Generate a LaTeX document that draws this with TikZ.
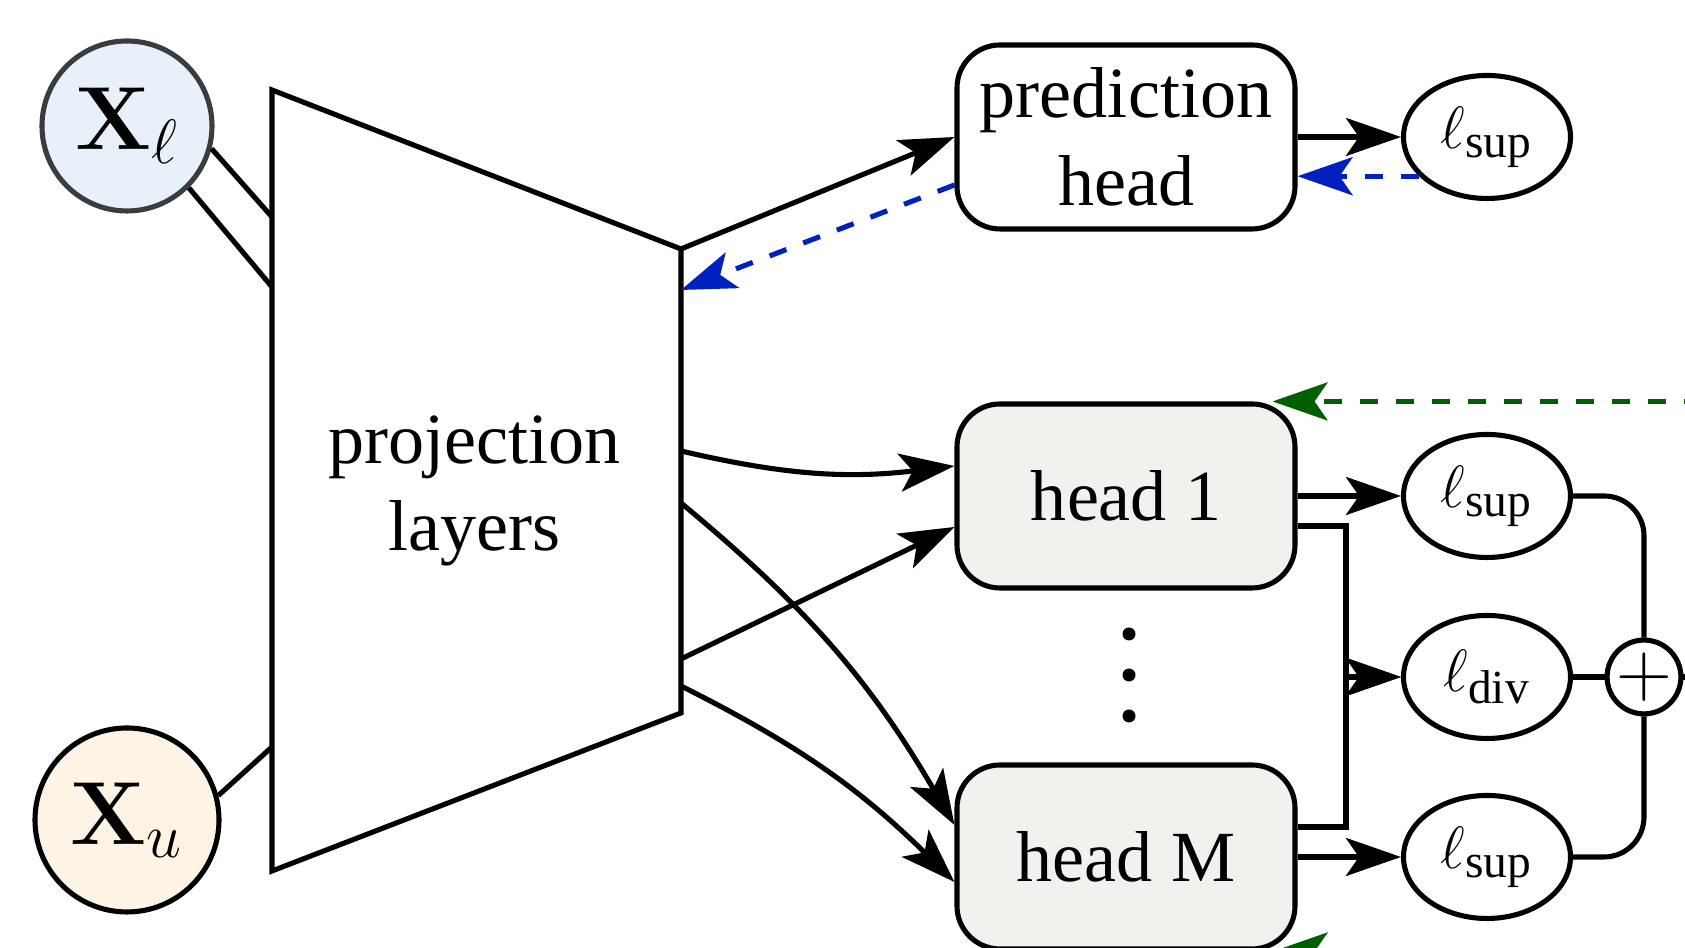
\documentclass[tikz,border=0pt]{standalone}
\usepackage{fix-cm}
\usepackage[no-math]{fontspec}
\setmainfont{Liberation Serif}
\usepackage{tikz}
\usepackage{xcolor}
\usetikzlibrary{arrows.meta, shapes.geometric, positioning}

\definecolor{inblue}{RGB}{232,240,250}
\definecolor{inorange}{RGB}{253,244,230}
\definecolor{headgray}{RGB}{241,242,238}
\definecolor{rimgray}{RGB}{58,60,65}
\definecolor{gradblue}{RGB}{0,32,192}
\definecolor{gradgreen}{RGB}{0,95,0}

\newcommand{\lossterm}[1]{$\ell_{\mbox{\fontsize{13.5}{14}\selectfont #1}}$}

\begin{document}
\begin{tikzpicture}[line width=1.45pt, node distance=3.61cm, on grid,
  >={Stealth[length=0.55cm, width=0.38cm, inset=0.13cm]},
  font=\fontsize{20.5}{25}\selectfont,
  input/.style={circle, draw, inner sep=0pt, font=\fontsize{25.5}{28}\selectfont},
  head/.style={rectangle, rounded corners=0.43cm, draw, fill=headgray, minimum width=3.38cm, minimum height=1.84cm, align=center},
  loss/.style={ellipse, draw, minimum width=1.67cm, minimum height=1.23cm, inner sep=0pt, font=\fontsize{17}{20}\selectfont},
  gradflow/.style={->, dash pattern=on 0.18cm off 0.18cm}]

            \useasboundingbox (0,0) rectangle (16.85,9.48);

            \node[input, fill=inblue, draw=rimgray, minimum size=1.70cm] (Xl) at (1.27,8.22) {$\mathbf{X}_\ell$};
            \node[input, fill=inorange, minimum size=1.84cm] (Xu) at (1.27,1.28) {$\mathbf{X}_u$};

            % projection layers
            \coordinate (pTL) at (2.72,8.58);
            \coordinate (pTR) at (6.81,6.99);
            \coordinate (pBR) at (6.81,2.35);
            \coordinate (pBL) at (2.72,0.77);
            \draw (pTL) -- (pTR) -- (pBR) -- (pBL) -- cycle;
            \node[align=center] (proj) at (4.745,4.57) {projection\\layers};

            \coordinate (inA) at (2.72,7.31);
            \coordinate (inB) at (2.72,6.61);
            \coordinate (inC) at (2.72,2.01);
            \coordinate (outG) at (6.81,6.58);
            \coordinate (out1) at (6.81,4.97);
            \coordinate (out2) at (6.81,4.45);
            \coordinate (out3) at (6.81,2.89);
            \coordinate (out4) at (6.81,2.62);

            \draw (Xl.-15) -- (inA);
            \draw (Xl.-45) -- (inB);
            \draw (Xu.15) -- (inC);

            % heads
            \node[head] (H1) at (11.26,4.52) {head 1};
            \node[head, fill=white, above=3.59cm of H1] (P) {prediction\\head};
            \node[head, below=of H1] (HM) {head M};
            \coordinate (dots) at (11.29,2.73);
            \foreach \dy in {-0.41,0,0.41}
                \fill ([yshift=\dy cm]dots) circle (0.065cm);

            % losses
            \node[loss, right=of P] (L0) {\lossterm{sup}};
            \node[loss, right=of H1] (L1) {\lossterm{sup}};
            \node[loss, below=1.81cm of L1] (Ld) {\lossterm{div}};
            \node[loss, right=of HM] (L2) {\lossterm{sup}};
            \node[circle, draw, minimum size=0.66cm, inner sep=0pt, right=1.57cm of Ld, font=\fontsize{22}{22}\selectfont] (S) {$+$};
            \coordinate (Sout) at ([xshift=1cm]S.east);

            \draw[->] (pTR) -- (P.west);
            \draw[->] (P) -- (L0);
            \draw[->] (H1) -- (L1);
            \draw[->] (HM) -- (L2);

            \path[->]
            (out1) edge[bend right=10] ([yshift=0.30cm]H1.west)
            (out2) edge[bend left=10] ([yshift=0.32cm]HM.west)
            (out3) edge ([yshift=-0.31cm]H1.west)
            (out4) edge[bend left=9] ([yshift=-0.25cm]HM.west);

            \draw[->] ([yshift=-0.30cm]H1.east) -| ([xshift=-5.5mm]Ld.west) -- (Ld.west);
            \draw[->] ([yshift=0.30cm]HM.east) -| ([xshift=-5.5mm]Ld.west) -- (Ld.west);

            \draw[rounded corners=0.4cm] (L1.east) -| (S.north);
            \draw[rounded corners=0.4cm] (L2.east) -| (S.south);
            \draw (Ld) -- (S);
            \draw (S.east) -- (Sout);

            % gradients
            \draw[gradflow, draw=gradblue] (L0.210) -- (L0.210 -| P.east);
            \draw[gradflow, draw=gradblue] ([yshift=-0.48cm]P.west) -- (outG);

            \coordinate (fb1) at ([xshift=4.4cm]H1.north east);
            \coordinate (fb2) at ([xshift=4.4cm]HM.south east);
            \draw[gradflow, draw=gradgreen] (fb1) -- ([xshift=-2.5mm]H1.north east);
            \draw[gradflow, draw=gradgreen] (fb2) -- ([xshift=-2.5mm]HM.south east);

        \end{tikzpicture}
\end{document}
